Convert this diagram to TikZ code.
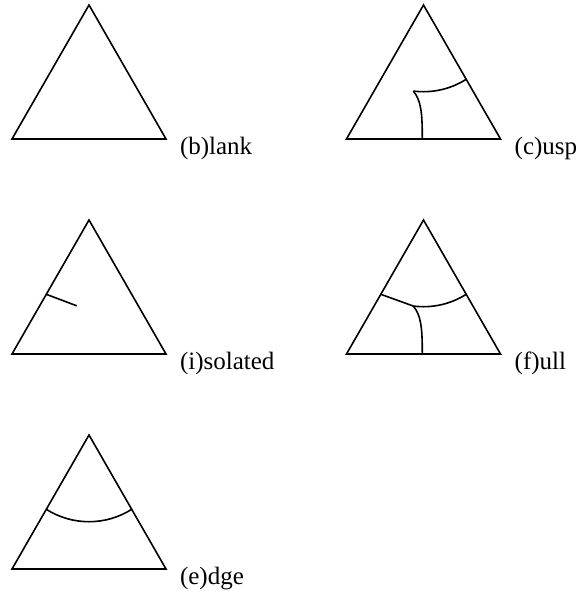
\documentclass[tikz,border=0pt]{standalone}
\usepackage{fontspec}
\setmainfont{Liberation Serif}
\tikzset{
  outline/.style={line width=1.6pt, line join=miter},
  inner/.style={line width=1.6pt},
  lab/.style={anchor=base west, inner sep=0pt, font=\fontsize{25}{29}\selectfont},
  tri/.pic={
    \coordinate (-A) at (0,0);
    \coordinate (-L) at (-77,-134);
    \coordinate (-R) at (77,-134);
    \coordinate (-SL) at (-42.7,-74.3);
    \coordinate (-SR) at (42.7,-74.3);
    \coordinate (-J) at (-10.19,-86.05);
    \coordinate (-J1) at (-2.5,-95.5);
    \coordinate (-B1) at (-1.2,-107);
    \coordinate (-B) at (-1.2,-134);
    \coordinate (-I) at (-12.3,-85.8);
    \draw[outline] (-A) -- (-L) -- (-R) -- cycle;
  }
}
\begin{document}
\begin{tikzpicture}[x=1pt,y=1pt]
\useasboundingbox (0,0) rectangle (582,-594);
% (b)lank
\pic (b) at (89,-5) {tri};
\node[lab] (bl) at (179.8,-154.3) {(b)lank};
% (c)usp
\pic (c) at (423.5,-5) {tri};
\draw[inner] (c-J) arc[start angle=262.65, end angle=302.4, radius=79.7];
\draw[inner] (c-J) .. controls (c-J1) and (c-B1) .. (c-B);
\node[lab] (cl) at (514.5,-154.3) {(c)usp};
% (i)solated
\pic (i) at (89,-220) {tri};
\draw[inner] (i-SL) -- (i-I);
\node[lab] (il) at (179.8,-369.3) {(i)solated};
% (f)ull
\pic (f) at (423.5,-220) {tri};
\draw[inner] (f-SL) -- (f-J) arc[start angle=262.65, end angle=302.4, radius=79.7];
\draw[inner] (f-J) .. controls (f-J1) and (f-B1) .. (f-B);
\node[lab] (fl) at (514.5,-369.3) {(f)ull};
% (e)dge
\pic (e) at (89,-435) {tri};
\draw[inner] (e-SL) arc[start angle=237.6, end angle=302.4, radius=79.7];
\node[lab] (el) at (179.8,-584.3) {(e)dge};
\end{tikzpicture}
\end{document}
